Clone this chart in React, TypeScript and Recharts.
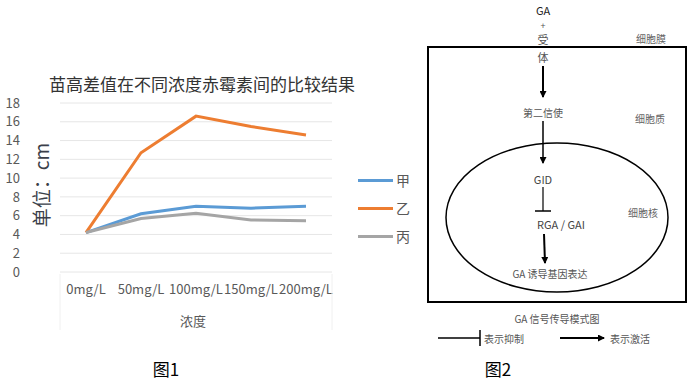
import React from "react";
import { LineChart, Line, XAxis, YAxis, CartesianGrid } from "recharts";

const categories = ["0mg/L", "50mg/L", "100mg/L", "150mg/L", "200mg/L"];
const seriesJia = [4.2, 6.2, 7.0, 6.8, 7.0];
const seriesYi = [4.2, 12.7, 16.6, 15.5, 14.6];
const seriesBing = [4.2, 5.7, 6.25, 5.55, 5.45];
const yTicks = [0, 2, 4, 6, 8, 10, 12, 14, 16, 18];
const seriesNames = ["甲", "乙", "丙"];
const seriesColors = ["#5B9BD5", "#ED7D31", "#A5A5A5"];

const data = categories.map((c, i) => ({
  name: c,
  甲: seriesJia[i],
  乙: seriesYi[i],
  丙: seriesBing[i],
}));

const FONT = '"Noto Sans CJK SC", "Noto Sans", sans-serif';

export default function App() {
  const gray = "#595959";
  return (
    <div style={{ position: "absolute", left: 0, top: 0, width: 692, height: 383, background: "#fff", fontFamily: FONT }}>
      <LineChart width={692} height={383} data={data} margin={{ top: 103, right: 360, bottom: 81, left: 0 }}>
        <CartesianGrid horizontal vertical={false} stroke="#e6e6e6" />
        <XAxis
          dataKey="name"
          height={30}
          axisLine={false}
          tickLine={false}
          padding={{ left: 26, right: 26 }}
          tickMargin={7}
          interval={0}
          tick={{ fill: gray, fontSize: 13, fontFamily: FONT }}
        />
        <YAxis
          width={60}
          domain={[0, 18]}
          ticks={yTicks}
          interval={0}
          axisLine={false}
          tickLine={false}
          tickMargin={34}
          tick={{ fill: gray, fontSize: 13, fontFamily: FONT }}
        />
        {seriesNames.map((n, i) => (
          <Line key={n} type="linear" dataKey={n} stroke={seriesColors[i]} strokeWidth={3} dot={false} isAnimationActive={false} />
        ))}
      </LineChart>
      <div style={{ position: "absolute", left: 358, top: 166, fontFamily: FONT }}>
        {seriesNames.map((n, i) => (
          <div key={n} style={{ display: "flex", alignItems: "center", height: 28 }}>
            <div style={{ width: 35, height: 3, background: seriesColors[i], marginRight: 3 }} />
            <span style={{ fontSize: 14, color: gray }}>{n}</span>
          </div>
        ))}
      </div>
      <svg width={692} height={383} style={{ position: "absolute", left: 0, top: 0, pointerEvents: "none" }}>
        <defs>
          <marker id="ah" markerWidth="7" markerHeight="7" refX="6" refY="3.5" orient="auto" markerUnits="userSpaceOnUse">
            <path d="M0,0 L7,3.5 L0,7 Z" fill="#000" />
          </marker>
        </defs>
        <text x={202} y={83} textAnchor="middle" dominantBaseline="central" fontSize={17} fill="#333" fontFamily={FONT}>
          苗高差值在不同浓度赤霉素间的比较结果
        </text>
        <text x={0} y={0} transform="translate(40,185) rotate(-90)" textAnchor="middle" dominantBaseline="central" fontSize={19} fill="#3b3f4a" fontFamily={FONT}>
          单位：cm
        </text>
        <line x1={60} y1={274} x2={60} y2={330} stroke="#f0f0f0" />
        <line x1={332} y1={274} x2={332} y2={330} stroke="#f0f0f0" />
        <text x={193} y={320} textAnchor="middle" dominantBaseline="central" fontSize={13} fill={gray} fontFamily={FONT}>浓度</text>
        <text x={166} y={368} textAnchor="middle" dominantBaseline="central" fontSize={17} fill="#000" fontFamily={FONT}>图1</text>

        {/* Diagram 图2 */}
        <rect x={428} y={47} width={258} height={255} fill="none" stroke="#000" strokeWidth={2} />
        <ellipse cx={557} cy={217.5} rx={111} ry={74.5} fill="none" stroke="#000" strokeWidth={1.5} />
        <text x={543} y={10} textAnchor="middle" dominantBaseline="central" fontSize={11} fill="#222" fontFamily={FONT}>GA</text>
        <text x={543} y={25} textAnchor="middle" dominantBaseline="central" fontSize={9} fill="#555" fontFamily={FONT}>+</text>
        <text x={543} y={39} textAnchor="middle" dominantBaseline="central" fontSize={11} fill="#555" fontFamily={FONT}>受</text>
        <text x={543} y={57} textAnchor="middle" dominantBaseline="central" fontSize={11} fill="#555" fontFamily={FONT}>体</text>
        <text x={651} y={38} textAnchor="middle" dominantBaseline="central" fontSize={10} fill="#666" fontFamily={FONT}>细胞膜</text>
        <line x1={543} y1={66} x2={543} y2={97} stroke="#000" strokeWidth={2} markerEnd="url(#ah)" />
        <text x={543} y={112} textAnchor="middle" dominantBaseline="central" fontSize={10} fill="#555" fontFamily={FONT}>第二信使</text>
        <text x={650} y={118} textAnchor="middle" dominantBaseline="central" fontSize={10} fill="#666" fontFamily={FONT}>细胞质</text>
        <line x1={543} y1={121} x2={543} y2={163} stroke="#000" strokeWidth={1.5} markerEnd="url(#ah)" />
        <text x={543} y={179} textAnchor="middle" dominantBaseline="central" fontSize={11} fill="#444" fontFamily={FONT}>GID</text>
        <line x1={543} y1={187} x2={543} y2={211} stroke="#000" strokeWidth={1.2} />
        <line x1={535} y1={211} x2={551} y2={211} stroke="#000" strokeWidth={1.5} />
        <text x={561} y={224} textAnchor="middle" dominantBaseline="central" fontSize={11} fill="#444" fontFamily={FONT}>RGA / GAI</text>
        <text x={643} y={212} textAnchor="middle" dominantBaseline="central" fontSize={10} fill="#666" fontFamily={FONT}>细胞核</text>
        <line x1={544} y1={234} x2={545} y2={263} stroke="#000" strokeWidth={2} markerEnd="url(#ah)" />
        <text x={550} y={273} textAnchor="middle" dominantBaseline="central" fontSize={10} fill="#555" fontFamily={FONT}>GA 诱导基因表达</text>
        <text x={557} y={318} textAnchor="middle" dominantBaseline="central" fontSize={10} fill="#555" fontFamily={FONT}>GA 信号传导模式图</text>
        <line x1={438} y1={338} x2={480} y2={338} stroke="#000" strokeWidth={1.5} />
        <line x1={480} y1={330} x2={480} y2={346} stroke="#000" strokeWidth={1.5} />
        <text x={484} y={338} textAnchor="start" dominantBaseline="central" fontSize={10} fill="#555" fontFamily={FONT}>表示抑制</text>
        <line x1={560} y1={338} x2={604} y2={338} stroke="#000" strokeWidth={2} markerEnd="url(#ah)" />
        <text x={610} y={338} textAnchor="start" dominantBaseline="central" fontSize={10} fill="#555" fontFamily={FONT}>表示激活</text>
        <text x={498} y={368} textAnchor="middle" dominantBaseline="central" fontSize={17} fill="#000" fontFamily={FONT}>图2</text>
      </svg>
    </div>
  );
}
